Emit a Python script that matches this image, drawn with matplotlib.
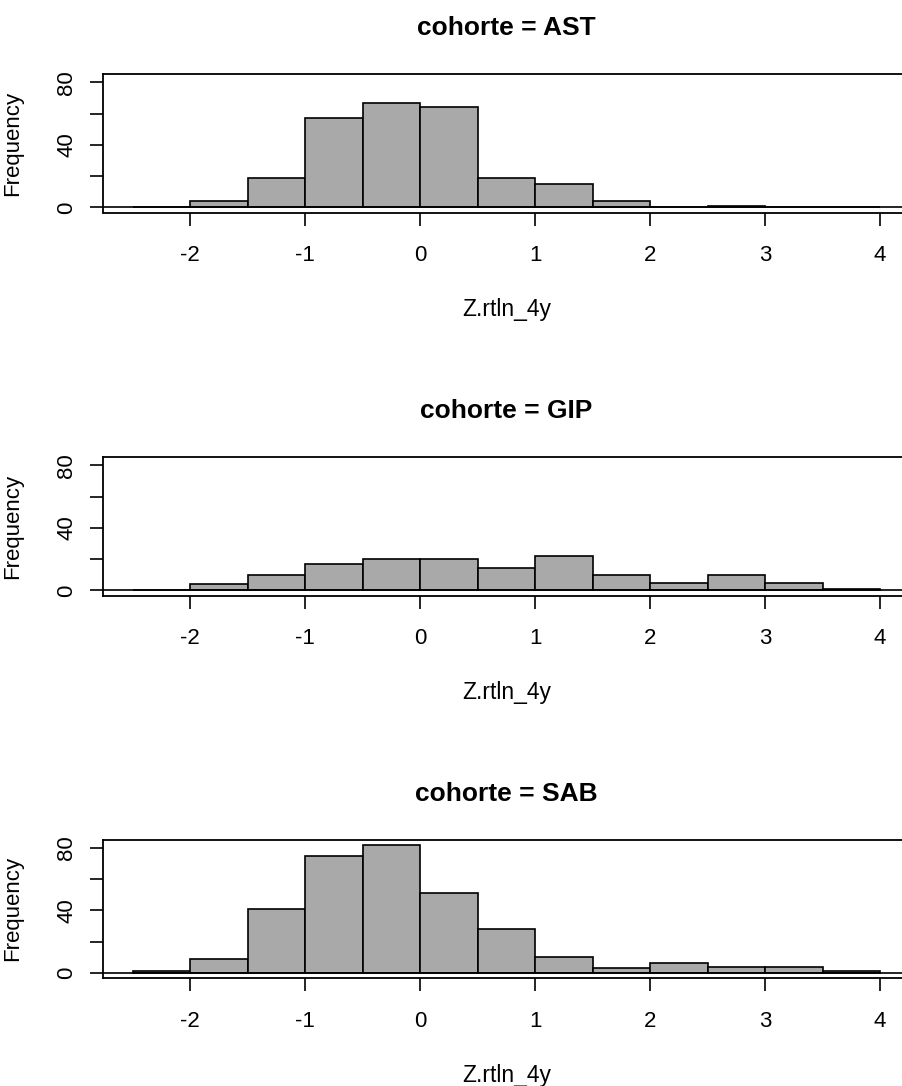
import numpy as np
import matplotlib.pyplot as plt

plt.rcParams['font.family'] = ['Liberation Sans', 'DejaVu Sans']

# histogram bins shared by all three cohorts
bin_edges = np.arange(-2.5, 4.01, 0.5)
cohorts = ["AST", "GIP", "SAB"]
counts_ast = [0, 4, 19, 57, 67, 64, 19, 15, 4, 0, 1, 0, 0]
counts_gip = [0, 4, 10, 17, 20, 20, 14, 22, 10, 5, 10, 5, 1]
counts_sab = [1, 9, 41, 75, 82, 51, 28, 10, 3, 6, 4, 4, 1]
all_counts = [counts_ast, counts_gip, counts_sab]

x_ticks = [-2, -1, 0, 1, 2, 3, 4]
y_ticks = [0, 20, 40, 60, 80]
y_ticklabels = ["0", "", "40", "", "80"]

W, H = 903, 1086
fig = plt.figure(figsize=(W / 100, H / 100), dpi=100)

box_left, box_w, box_h = 103, 807, 138.5
box_tops = [74, 457, 839.5]

for name, counts, top in zip(cohorts, all_counts, box_tops):
    ax = fig.add_axes([box_left / W, 1 - (top + box_h) / H, box_w / W, box_h / H])
    ax.bar(bin_edges[:-1], counts, width=0.5, align='edge',
           color='darkgray', edgecolor='black', linewidth=1.2, zorder=2)
    ax.axhline(0, color='black', linewidth=1.2, zorder=3)
    ax.set_xlim(-2.76, 4.26)
    ax.set_ylim(-3.28, 85.28)
    ax.set_xticks(x_ticks)
    ax.set_xticklabels([str(t) for t in x_ticks])
    ax.set_yticks(y_ticks)
    ax.set_yticklabels(y_ticklabels, rotation=90, va='center')
    ax.tick_params(direction='out', length=9.5, width=1.2, labelsize=16,
                   colors='black')
    ax.tick_params(axis='x', pad=14)
    ax.tick_params(axis='y', pad=9)
    for sp in ax.spines.values():
        sp.set_linewidth(1.3)
        sp.set_color('black')
    ax.set_title(f"cohorte = {name}", fontsize=19, fontweight='bold', pad=28)
    ax.set_xlabel("Z.rtln_4y", fontsize=16.5, labelpad=23)
    ax.set_ylabel("Frequency", fontsize=16, labelpad=24)

fig.savefig("out.png", dpi=100)
